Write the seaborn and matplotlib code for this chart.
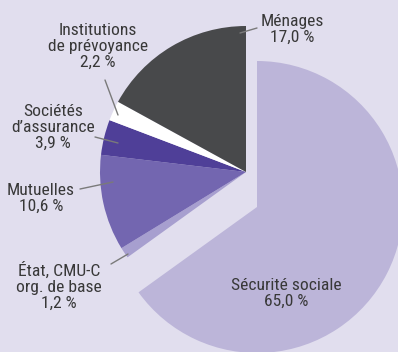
import seaborn as sns
import matplotlib.pyplot as plt

# Financing of health expenditure, share by payer (%)
categories = [
    "Sécurité sociale",
    "État, CMU-C\norg. de base",
    "Mutuelles",
    "Sociétés\nd’assurance",
    "Institutions\nde prévoyance",
    "Ménages",
]
shares = [65.0, 1.2, 10.6, 3.9, 2.2, 17.0]
palette = ["#BCB5D9", "#A79FCF", "#7366B0", "#4F3F98", "#FFFFFF", "#48494B"]

BG = "#E1DEEE"
TEXT = "#383838"
LEADER = "#7A7A7A"

sns.set_theme(style="white")
plt.rcParams["font.family"] = ["Roboto Condensed", "DejaVu Sans"]

# pixel geometry of the drawing
W, H = 398, 352
CX, CY, R = 246, 172, 146


def to_data(px, py):
    return ((px - CX) / R, (CY - py) / R)


fig = plt.figure(figsize=(W / 100, H / 100), dpi=100, facecolor=BG)
ax = fig.add_axes([0, 0, 1, 1])
ax.set_facecolor(BG)

# resting wedges (the main slice is drawn separately, pulled out)
rest_colors = ["none"] + palette[1:]
ax.pie(shares, colors=rest_colors, startangle=90, counterclock=False,
       radius=1, center=(0, 0), wedgeprops=dict(linewidth=0))

# detached main slice
main_colors = [palette[0]] + ["none"] * (len(shares) - 1)
ax.pie(shares, colors=main_colors, startangle=90, counterclock=False,
       radius=1, center=to_data(257, 207), wedgeprops=dict(linewidth=0))

ax.set_xlim(to_data(0, 0)[0], to_data(W, 0)[0])
ax.set_ylim(to_data(0, H)[1], to_data(0, 0)[1])
ax.set_aspect("equal", adjustable="datalim")
ax.axis("off")


def fmt(v):
    return f"{v:.1f}".replace(".", ",") + " %"


# label anchors (centre of text block) and leader lines, in pixels
label_pos = [(286, 293), (59, 286), (41, 198), (53, 127), (98, 46), (292, 29)]
leaders = [
    None,
    ((111, 264), (128, 254)),
    ((80, 189), (113, 182)),
    ((95, 137), (118, 143)),
    ((105, 80), (118, 115)),
    ((240, 33), (257, 28)),
]

for name, val, (lx, ly), lead in zip(categories, shares, label_pos, leaders):
    ax.text(*to_data(lx, ly), f"{name}\n{fmt(val)}", ha="center", va="center",
            fontsize=12.6, color=TEXT, linespacing=1.08)
    if lead is not None:
        (x0, y0), (x1, y1) = lead
        d0, d1 = to_data(x0, y0), to_data(x1, y1)
        ax.plot([d0[0], d1[0]], [d0[1], d1[1]], color=LEADER, lw=1)

fig.savefig("out.png", dpi=100, facecolor=BG)
